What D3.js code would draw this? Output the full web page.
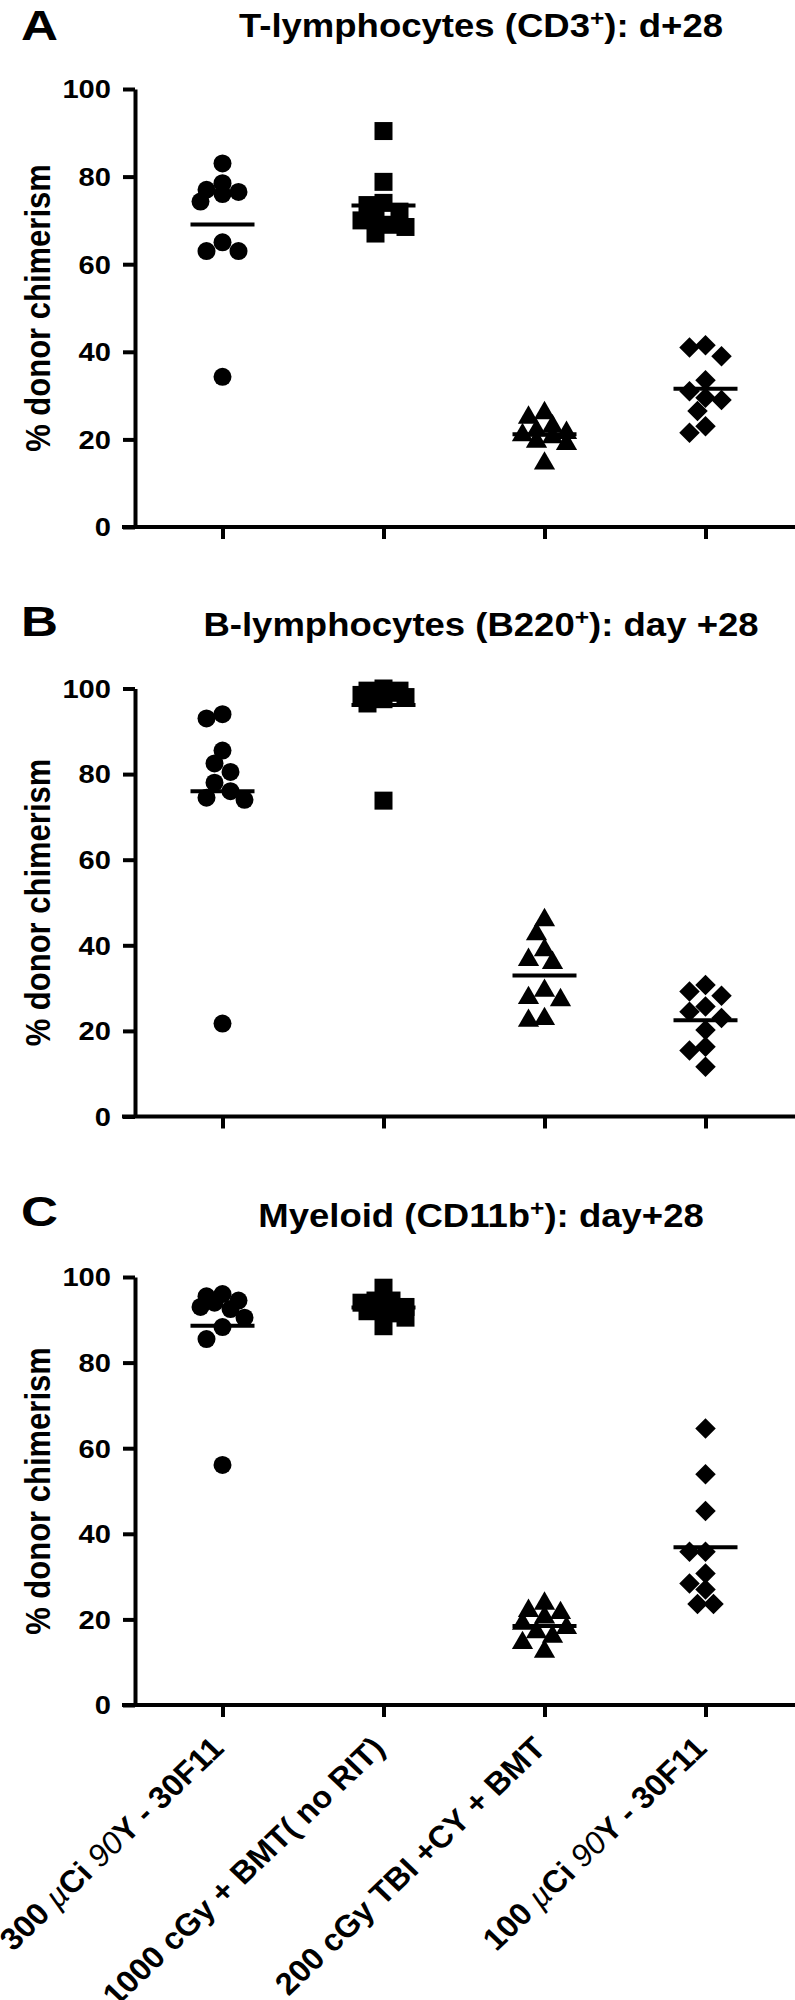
<!DOCTYPE html>
<html>
<head>
<meta charset="utf-8">
<script src="https://cdn.jsdelivr.net/npm/d3@7"></script>
<style>
  body { margin: 0; background: #fff; }
  svg { display: block; }
  text { font-family: "Liberation Sans", Arial, Helvetica, sans-serif; font-weight: bold; fill: #000; }
</style>
</head>
<body>
<svg id="chart" width="795" height="2000"></svg>
<script>
// Donor chimerism at day +28, three lineages

var groups = ['300 µCi 90Y - 30F11', '1000 cGy + BMT( no RIT)', '200 cGy TBI +CY + BMT', '100 µCi 90Y - 30F11']
var panelLetters = ['A', 'B', 'C']
var panelTitles = [
	['T-lymphocytes (CD3', '+', '): d+28'],
	['B-lymphocytes (B220', '+', '): day +28'],
	['Myeloid (CD11b', '+', '): day+28']
]
var yTicks = [0, 20, 40, 60, 80, 100]

// one array per group: circles, squares, triangles, diamonds
var cd3Values = [
	[83, 78.5, 77, 76.5, 76, 74.3, 65, 63, 63, 34.3],
	[90.4, 78.8, 74, 73.5, 72, 71, 70, 69, 68.5, 67],
	[26, 25, 23, 22, 21.5, 21, 20.5, 19.5, 19, 14.5],
	[41.5, 41, 39, 33.5, 31, 29.5, 29, 26.5, 23, 21.5]
]
var b220Values = [
	[94, 93, 85.5, 82.5, 80.5, 78, 76, 74.5, 74, 21.7],
	[100, 99.5, 99.5, 99, 99, 98.5, 98, 97.5, 96.5, 73.8],
	[45.9, 42.6, 38.9, 36.6, 35.9, 29.4, 27.7, 27.2, 22.8, 22.4],
	[30.7, 29.2, 28.2, 25.7, 24.5, 23, 20.2, 16.3, 15.4, 11.6]
]
var cd11bValues = [
	[96, 95.5, 94.5, 94, 93, 92.5, 90.5, 88.3, 85.5, 56.1],
	[97.5, 94.5, 94.5, 94, 93, 92.5, 92, 91.5, 90.5, 88.5],
	[23.7, 22, 21.5, 20.5, 19, 18, 17, 16, 14.5, 12.5],
	[64.6, 53.9, 45.3, 35.8, 35.8, 30.7, 28.4, 27, 23.6, 23.6]
]
var panelValues = [cd3Values, b220Values, cd11bValues]

// layout
var SX = 1.12 // text in the figure is a little wider than Arial
var axisX = 135
var panels = [
	{y0: 527, y100: 89, letterY: 40, titleY: 37},
	{y0: 1116.5, y100: 688.5, letterY: 636, titleY: 636},
	{y0: 1705, y100: 1277, letterY: 1226, titleY: 1227}
]

var svg = d3.select('#chart')

var x = d3.scalePoint()
	.domain(groups)
	.range([222.5, 705.5])

var symbols = [
	d3.symbol(d3.symbolCircle, Math.PI * 9 * 9),
	d3.symbol(d3.symbolSquare, 18 * 18),
	d3.symbol(d3.symbolTriangle, 195),
	d3.symbol(d3.symbolSquare, 210)
]

function stretched(sel, tx, ty, sx, extra) {
	return sel.attr('transform', 'translate(' + tx + ',' + ty + ') scale(' + sx + ',1)' + (extra || ''))
}

// simple beeswarm so overlapping points spread sideways
function swarm(vals, y) {
	var placed = []
	var cands = [0, -8, 8, -16, 16, -22, 22]
	vals.forEach(function(v) {
		var py = y(v)
		var best = cands[0], bestDist = -1
		for (var i = 0; i < cands.length; i++) {
			var minD = Infinity
			placed.forEach(function(p) {
				var dd = Math.hypot(p.dx - cands[i], p.py - py)
				if (dd < minD) minD = dd
			})
			if (minD >= 15) { best = cands[i]; bestDist = minD; break }
			if (minD > bestDist) { bestDist = minD; best = cands[i] }
		}
		placed.push({v: v, py: py, dx: best})
	})
	return placed
}

panels.forEach(function(p, pi) {
	var g = svg.append('g')
	var y = d3.scaleLinear().domain([0, 100]).range([p.y0, p.y100])

	// letter + title
	stretched(g.append('text'), 21, p.letterY, 1.22)
		.style('font-size', '42px')
		.text(panelLetters[pi])

	var title = stretched(g.append('text'), 481, p.titleY, SX)
		.attr('text-anchor', 'middle')
		.style('font-size', '32.6px')
	title.append('tspan').text(panelTitles[pi][0])
	title.append('tspan').attr('dy', -11).style('font-size', '22px').text(panelTitles[pi][1])
	title.append('tspan').attr('dy', 11).text(panelTitles[pi][2])

	// y axis
	var yAxis = g.append('g')
		.attr('transform', 'translate(' + axisX + ',0)')
		.call(d3.axisLeft(y).tickValues(yTicks).tickSize(12).tickSizeOuter(0))
	yAxis.select('.domain').attr('stroke-width', 4).attr('stroke', '#000')
	yAxis.selectAll('.tick line').attr('stroke-width', 4).attr('stroke', '#000')
	yAxis.selectAll('.tick text').remove()
	yTicks.forEach(function(t) {
		stretched(g.append('text'), 111, y(t), SX)
			.attr('text-anchor', 'end')
			.attr('dy', '0.36em')
			.style('font-size', '26px')
			.text(t)
	})

	stretched(g.append('text'), 50, (p.y0 + p.y100) / 2, SX, ' rotate(-90)')
		.attr('text-anchor', 'middle')
		.style('font-size', '31px')
		.text('% donor chimerism')

	// x axis
	var xAxis = g.append('g')
		.attr('transform', 'translate(0,' + p.y0 + ')')
		.call(d3.axisBottom(x).tickSize(12).tickSizeOuter(0).tickFormat(''))
	xAxis.select('.domain').attr('d', 'M' + (axisX - 13) + ',0H795').attr('stroke-width', 4).attr('stroke', '#000')
	xAxis.selectAll('.tick line').attr('stroke-width', 4).attr('stroke', '#000')

	// points
	panelValues[pi].forEach(function(vals, gi) {
		var cx = x(groups[gi])
		var pts = swarm(vals, y)
		g.append('g').selectAll('path')
			.data(pts)
			.enter()
			.append('path')
			.attr('d', symbols[gi])
			.attr('fill', '#000')
			.attr('transform', function(d) {
				return 'translate(' + (cx + d.dx) + ',' + d.py + ')' + (gi == 3 ? ' rotate(45)' : '')
			})

		var m = d3.mean(vals)
		g.append('line')
			.attr('x1', cx - 32).attr('x2', cx + 32)
			.attr('y1', y(m)).attr('y2', y(m))
			.attr('stroke', '#000')
			.attr('stroke-width', 4)
	})

	// group labels under the last panel only
	if (pi == panels.length - 1) {
		groups.forEach(function(name) {
			var t = stretched(g.append('text'), x(name) + 3, p.y0 + 45, 1.05, ' rotate(-45)')
				.attr('text-anchor', 'end')
				.style('font-size', '31px')
			var m = name.match(/^(\d+) µCi 90(Y.*)$/)
			if (m) {
				t.append('tspan').text(m[1] + ' ')
				t.append('tspan').style('font-weight', 'normal').style('font-style', 'italic').text('µ')
				t.append('tspan').text('Ci ')
				t.append('tspan').style('font-weight', 'normal').style('font-style', 'italic').text('90')
				t.append('tspan').text(m[2])
			} else {
				t.text(name)
			}
		})
	}
})
</script>
</body>
</html>
